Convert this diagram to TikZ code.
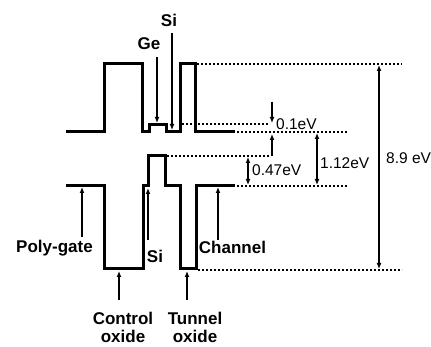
\documentclass[tikz,border=0pt]{standalone}
\usepackage{fontspec}
\setmainfont{Liberation Sans}
\usetikzlibrary{arrows.meta}
\begin{document}
\begin{tikzpicture}[x=1pt,y=-1pt,
  band/.style={line width=3pt,line join=miter},
  guide/.style={line width=2pt,dash pattern=on 2pt off 2pt},
  ptr/.style={line width=1.4pt,-{Latex[length=6pt,width=5pt]}},
  dim/.style={line width=1.4pt,{Latex[length=6pt,width=5pt]}-{Latex[length=6pt,width=5pt]}},
  lbl/.style={font=\fontsize{17}{18}\selectfont\bfseries,inner sep=0pt},
  val/.style={font=\fontsize{15.5}{16}\selectfont,inner sep=0pt,anchor=west}]
\useasboundingbox (0,0) rectangle (431,347);
% conduction band
\draw[band] (66,132) -- (104,132) -- (104,64) -- (142,64) -- (142,132) -- (149,132) -- (149,125) -- (166,125) -- (166,132) -- (180,132) -- (180,64) -- (195,64) -- (195,132) -- (235,132);
% valence band
\draw[band] (66,186) -- (104,186) -- (104,269) -- (143,269) -- (143,186) -- (148,186) -- (148,156) -- (165,156) -- (165,186) -- (180,186) -- (180,269) -- (196,269) -- (196,186) -- (235,186);
% guide lines
\draw[guide] (197,64) -- (402,64);
\draw[guide] (182,124) -- (268,124);
\draw[guide] (237,132) -- (348,132);
\draw[guide] (167,156) -- (269,156);
\draw[guide] (237,186) -- (348,186);
\draw[guide] (198,270) -- (402,270);
% coordinates
\coordinate (geA) at (157,57);   \coordinate (geB) at (157,123);
\coordinate (siA) at (172,33);   \coordinate (siB) at (172,130);
\coordinate (dA) at (272,102);   \coordinate (dB) at (272,123);
\coordinate (dC) at (272,156);   \coordinate (dD) at (272,134);
\coordinate (eA) at (248,157);   \coordinate (eB) at (248,185);
\coordinate (fA) at (317,133);   \coordinate (fB) at (317,185);
\coordinate (gA) at (379,65);    \coordinate (gB) at (379,269);
\coordinate (pA) at (82,237);    \coordinate (pB) at (82,187);
\coordinate (sA) at (148,240);   \coordinate (sB) at (148,188);
\coordinate (cA) at (218,240);   \coordinate (cB) at (218,187);
\coordinate (oA) at (119,300);   \coordinate (oB) at (119,271);
\coordinate (tA) at (187,300);   \coordinate (tB) at (187,271);
% arrows
\draw[ptr] (geA) -- (geB);
\draw[ptr] (siA) -- (siB);
\draw[ptr] (dA) -- (dB);
\draw[ptr] (dC) -- (dD);
\draw[dim] (eA) -- (eB);
\draw[dim] (fA) -- (fB);
\draw[dim] (gA) -- (gB);
\draw[ptr] (pA) -- (pB);
\draw[ptr] (sA) -- (sB);
\draw[ptr] (cA) -- (cB);
\draw[ptr] (oA) -- (oB);
\draw[ptr] (tA) -- (tB);
% labels
\node[lbl] (ge) at (149,44) {Ge};
\node[lbl] (si) at (169,20) {Si};
\node[lbl] (si2) at (155,256) {Si};
\node[lbl] (poly) at (54.5,248) {Poly-gate};
\node[lbl] (chan) at (232.5,247) {Channel};
\node[lbl,align=center] (ctrl) at (123,327) {Control\\oxide};
\node[lbl,align=center] (tun) at (195,327) {Tunnel\\oxide};
\node[val] (v1) at (276,124) {0.1eV};
\node[val] (v2) at (252,170) {0.47eV};
\node[val] (v3) at (320,163) {1.12eV};
\node[val] (v4) at (386,158) {8.9 eV};
\end{tikzpicture}
\end{document}
